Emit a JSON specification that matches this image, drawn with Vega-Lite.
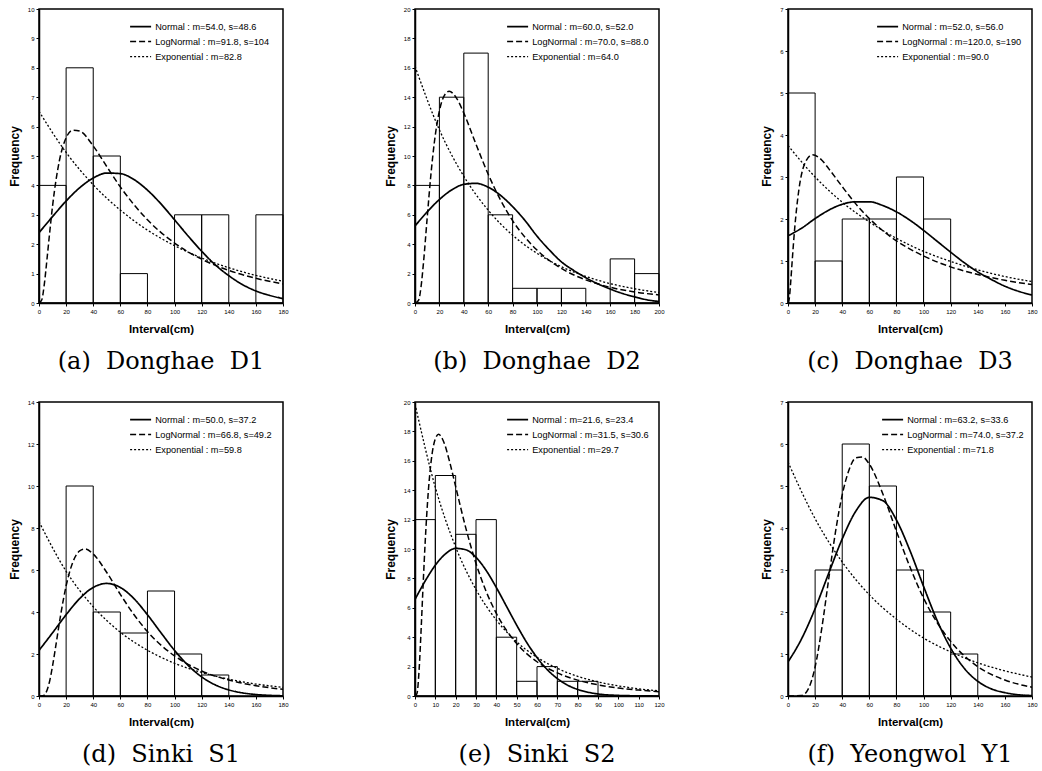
{
  "$schema": "https://vega.github.io/schema/vega-lite/v6.json",
  "background": "white",
  "padding": {"left": 7, "top": 5, "right": 0, "bottom": 0},
  "datasets": {
    "bars": [
      {"panel": "a", "x0": 0, "x1": 20, "count": 4}, {"panel": "a", "x0": 20, "x1": 40, "count": 8}, {"panel": "a", "x0": 40, "x1": 60, "count": 5}, {"panel": "a", "x0": 60, "x1": 80, "count": 1}, {"panel": "a", "x0": 100, "x1": 120, "count": 3}, {"panel": "a", "x0": 120, "x1": 140, "count": 3}, {"panel": "a", "x0": 160, "x1": 180, "count": 3},
      {"panel": "b", "x0": 0, "x1": 20, "count": 8}, {"panel": "b", "x0": 20, "x1": 40, "count": 14}, {"panel": "b", "x0": 40, "x1": 60, "count": 17}, {"panel": "b", "x0": 60, "x1": 80, "count": 6}, {"panel": "b", "x0": 80, "x1": 100, "count": 1}, {"panel": "b", "x0": 100, "x1": 120, "count": 1}, {"panel": "b", "x0": 120, "x1": 140, "count": 1}, {"panel": "b", "x0": 160, "x1": 180, "count": 3}, {"panel": "b", "x0": 180, "x1": 200, "count": 2},
      {"panel": "c", "x0": 0, "x1": 20, "count": 5}, {"panel": "c", "x0": 20, "x1": 40, "count": 1}, {"panel": "c", "x0": 40, "x1": 60, "count": 2}, {"panel": "c", "x0": 60, "x1": 80, "count": 2}, {"panel": "c", "x0": 80, "x1": 100, "count": 3}, {"panel": "c", "x0": 100, "x1": 120, "count": 2},
      {"panel": "d", "x0": 20, "x1": 40, "count": 10}, {"panel": "d", "x0": 40, "x1": 60, "count": 4}, {"panel": "d", "x0": 60, "x1": 80, "count": 3}, {"panel": "d", "x0": 80, "x1": 100, "count": 5}, {"panel": "d", "x0": 100, "x1": 120, "count": 2}, {"panel": "d", "x0": 120, "x1": 140, "count": 1},
      {"panel": "e", "x0": 0, "x1": 10, "count": 12}, {"panel": "e", "x0": 10, "x1": 20, "count": 15}, {"panel": "e", "x0": 20, "x1": 30, "count": 11}, {"panel": "e", "x0": 30, "x1": 40, "count": 12}, {"panel": "e", "x0": 40, "x1": 50, "count": 4}, {"panel": "e", "x0": 50, "x1": 60, "count": 1}, {"panel": "e", "x0": 60, "x1": 70, "count": 2}, {"panel": "e", "x0": 70, "x1": 80, "count": 1}, {"panel": "e", "x0": 80, "x1": 90, "count": 1},
      {"panel": "f", "x0": 20, "x1": 40, "count": 3}, {"panel": "f", "x0": 40, "x1": 60, "count": 6}, {"panel": "f", "x0": 60, "x1": 80, "count": 5}, {"panel": "f", "x0": 80, "x1": 100, "count": 3}, {"panel": "f", "x0": 100, "x1": 120, "count": 2}, {"panel": "f", "x0": 120, "x1": 140, "count": 1}
    ],
    "curves": [
      {"panel": "a", "dist": "Normal", "x": 0, "y": 2.39}, {"panel": "a", "dist": "Normal", "x": 10, "y": 2.94}, {"panel": "a", "dist": "Normal", "x": 20, "y": 3.47}, {"panel": "a", "dist": "Normal", "x": 30, "y": 3.92}, {"panel": "a", "dist": "Normal", "x": 40, "y": 4.25}, {"panel": "a", "dist": "Normal", "x": 50, "y": 4.42}, {"panel": "a", "dist": "Normal", "x": 60, "y": 4.4}, {"panel": "a", "dist": "Normal", "x": 70, "y": 4.2}, {"panel": "a", "dist": "Normal", "x": 80, "y": 3.84}, {"panel": "a", "dist": "Normal", "x": 90, "y": 3.37}, {"panel": "a", "dist": "Normal", "x": 100, "y": 2.83}, {"panel": "a", "dist": "Normal", "x": 110, "y": 2.28}, {"panel": "a", "dist": "Normal", "x": 120, "y": 1.76}, {"panel": "a", "dist": "Normal", "x": 130, "y": 1.3}, {"panel": "a", "dist": "Normal", "x": 140, "y": 0.93}, {"panel": "a", "dist": "Normal", "x": 150, "y": 0.63}, {"panel": "a", "dist": "Normal", "x": 160, "y": 0.41}, {"panel": "a", "dist": "Normal", "x": 170, "y": 0.26}, {"panel": "a", "dist": "Normal", "x": 180, "y": 0.15},
      {"panel": "a", "dist": "LogNormal", "x": 0, "y": 0}, {"panel": "a", "dist": "LogNormal", "x": 2, "y": 0.1}, {"panel": "a", "dist": "LogNormal", "x": 4, "y": 0.67}, {"panel": "a", "dist": "LogNormal", "x": 6, "y": 1.54}, {"panel": "a", "dist": "LogNormal", "x": 8, "y": 2.45}, {"panel": "a", "dist": "LogNormal", "x": 10, "y": 3.3}, {"panel": "a", "dist": "LogNormal", "x": 15, "y": 4.83}, {"panel": "a", "dist": "LogNormal", "x": 20, "y": 5.62}, {"panel": "a", "dist": "LogNormal", "x": 25, "y": 5.88}, {"panel": "a", "dist": "LogNormal", "x": 30, "y": 5.85}, {"panel": "a", "dist": "LogNormal", "x": 40, "y": 5.34}, {"panel": "a", "dist": "LogNormal", "x": 50, "y": 4.64}, {"panel": "a", "dist": "LogNormal", "x": 60, "y": 3.95}, {"panel": "a", "dist": "LogNormal", "x": 70, "y": 3.35}, {"panel": "a", "dist": "LogNormal", "x": 80, "y": 2.83}, {"panel": "a", "dist": "LogNormal", "x": 100, "y": 2.04}, {"panel": "a", "dist": "LogNormal", "x": 120, "y": 1.49}, {"panel": "a", "dist": "LogNormal", "x": 140, "y": 1.11}, {"panel": "a", "dist": "LogNormal", "x": 160, "y": 0.84}, {"panel": "a", "dist": "LogNormal", "x": 180, "y": 0.65},
      {"panel": "a", "dist": "Exponential", "x": 0, "y": 6.52}, {"panel": "a", "dist": "Exponential", "x": 20, "y": 5.12}, {"panel": "a", "dist": "Exponential", "x": 40, "y": 4.02}, {"panel": "a", "dist": "Exponential", "x": 60, "y": 3.16}, {"panel": "a", "dist": "Exponential", "x": 80, "y": 2.48}, {"panel": "a", "dist": "Exponential", "x": 100, "y": 1.95}, {"panel": "a", "dist": "Exponential", "x": 120, "y": 1.53}, {"panel": "a", "dist": "Exponential", "x": 140, "y": 1.2}, {"panel": "a", "dist": "Exponential", "x": 160, "y": 0.94}, {"panel": "a", "dist": "Exponential", "x": 180, "y": 0.74},

      {"panel": "b", "dist": "Normal", "x": 0, "y": 5.24}, {"panel": "b", "dist": "Normal", "x": 10, "y": 6.2}, {"panel": "b", "dist": "Normal", "x": 20, "y": 7.04}, {"panel": "b", "dist": "Normal", "x": 30, "y": 7.69}, {"panel": "b", "dist": "Normal", "x": 40, "y": 8.07}, {"panel": "b", "dist": "Normal", "x": 50, "y": 8.14}, {"panel": "b", "dist": "Normal", "x": 60, "y": 7.88}, {"panel": "b", "dist": "Normal", "x": 70, "y": 7.33}, {"panel": "b", "dist": "Normal", "x": 80, "y": 6.56}, {"panel": "b", "dist": "Normal", "x": 90, "y": 5.63}, {"panel": "b", "dist": "Normal", "x": 100, "y": 4.55}, {"panel": "b", "dist": "Normal", "x": 110, "y": 3.62}, {"panel": "b", "dist": "Normal", "x": 120, "y": 2.8}, {"panel": "b", "dist": "Normal", "x": 130, "y": 2.22}, {"panel": "b", "dist": "Normal", "x": 140, "y": 1.72}, {"panel": "b", "dist": "Normal", "x": 150, "y": 1.3}, {"panel": "b", "dist": "Normal", "x": 160, "y": 0.95}, {"panel": "b", "dist": "Normal", "x": 170, "y": 0.65}, {"panel": "b", "dist": "Normal", "x": 180, "y": 0.42}, {"panel": "b", "dist": "Normal", "x": 190, "y": 0.22}, {"panel": "b", "dist": "Normal", "x": 200, "y": 0.1},
      {"panel": "b", "dist": "LogNormal", "x": 0, "y": 0}, {"panel": "b", "dist": "LogNormal", "x": 3, "y": 0.2}, {"panel": "b", "dist": "LogNormal", "x": 5, "y": 1.14}, {"panel": "b", "dist": "LogNormal", "x": 7, "y": 2.78}, {"panel": "b", "dist": "LogNormal", "x": 10, "y": 5.81}, {"panel": "b", "dist": "LogNormal", "x": 13, "y": 8.7}, {"panel": "b", "dist": "LogNormal", "x": 16, "y": 11.02}, {"panel": "b", "dist": "LogNormal", "x": 20, "y": 13.07}, {"panel": "b", "dist": "LogNormal", "x": 24, "y": 14.11}, {"panel": "b", "dist": "LogNormal", "x": 28, "y": 14.4}, {"panel": "b", "dist": "LogNormal", "x": 34, "y": 13.94}, {"panel": "b", "dist": "LogNormal", "x": 40, "y": 12.92}, {"panel": "b", "dist": "LogNormal", "x": 50, "y": 10.8}, {"panel": "b", "dist": "LogNormal", "x": 60, "y": 8.76}, {"panel": "b", "dist": "LogNormal", "x": 70, "y": 7.02}, {"panel": "b", "dist": "LogNormal", "x": 80, "y": 5.6}, {"panel": "b", "dist": "LogNormal", "x": 90, "y": 4.49}, {"panel": "b", "dist": "LogNormal", "x": 100, "y": 3.6}, {"panel": "b", "dist": "LogNormal", "x": 120, "y": 2.35}, {"panel": "b", "dist": "LogNormal", "x": 140, "y": 1.57}, {"panel": "b", "dist": "LogNormal", "x": 160, "y": 1.07}, {"panel": "b", "dist": "LogNormal", "x": 180, "y": 0.75}, {"panel": "b", "dist": "LogNormal", "x": 200, "y": 0.55},
      {"panel": "b", "dist": "Exponential", "x": 0, "y": 16.1}, {"panel": "b", "dist": "Exponential", "x": 20, "y": 11.78}, {"panel": "b", "dist": "Exponential", "x": 40, "y": 8.62}, {"panel": "b", "dist": "Exponential", "x": 60, "y": 6.31}, {"panel": "b", "dist": "Exponential", "x": 80, "y": 4.61}, {"panel": "b", "dist": "Exponential", "x": 100, "y": 3.38}, {"panel": "b", "dist": "Exponential", "x": 120, "y": 2.47}, {"panel": "b", "dist": "Exponential", "x": 140, "y": 1.81}, {"panel": "b", "dist": "Exponential", "x": 160, "y": 1.32}, {"panel": "b", "dist": "Exponential", "x": 180, "y": 0.97}, {"panel": "b", "dist": "Exponential", "x": 200, "y": 0.71},

      {"panel": "c", "dist": "Normal", "x": 0, "y": 1.6}, {"panel": "c", "dist": "Normal", "x": 10, "y": 1.78}, {"panel": "c", "dist": "Normal", "x": 20, "y": 2.01}, {"panel": "c", "dist": "Normal", "x": 30, "y": 2.21}, {"panel": "c", "dist": "Normal", "x": 40, "y": 2.35}, {"panel": "c", "dist": "Normal", "x": 50, "y": 2.41}, {"panel": "c", "dist": "Normal", "x": 60, "y": 2.41}, {"panel": "c", "dist": "Normal", "x": 70, "y": 2.32}, {"panel": "c", "dist": "Normal", "x": 80, "y": 2.17}, {"panel": "c", "dist": "Normal", "x": 90, "y": 1.97}, {"panel": "c", "dist": "Normal", "x": 100, "y": 1.73}, {"panel": "c", "dist": "Normal", "x": 110, "y": 1.47}, {"panel": "c", "dist": "Normal", "x": 120, "y": 1.21}, {"panel": "c", "dist": "Normal", "x": 130, "y": 0.96}, {"panel": "c", "dist": "Normal", "x": 140, "y": 0.74}, {"panel": "c", "dist": "Normal", "x": 150, "y": 0.56}, {"panel": "c", "dist": "Normal", "x": 160, "y": 0.4}, {"panel": "c", "dist": "Normal", "x": 170, "y": 0.28}, {"panel": "c", "dist": "Normal", "x": 180, "y": 0.19},
      {"panel": "c", "dist": "LogNormal", "x": 0, "y": 0}, {"panel": "c", "dist": "LogNormal", "x": 1, "y": 0.12}, {"panel": "c", "dist": "LogNormal", "x": 2, "y": 0.5}, {"panel": "c", "dist": "LogNormal", "x": 3, "y": 0.96}, {"panel": "c", "dist": "LogNormal", "x": 5, "y": 1.8}, {"panel": "c", "dist": "LogNormal", "x": 8, "y": 2.69}, {"panel": "c", "dist": "LogNormal", "x": 12, "y": 3.29}, {"panel": "c", "dist": "LogNormal", "x": 18, "y": 3.53}, {"panel": "c", "dist": "LogNormal", "x": 25, "y": 3.4}, {"panel": "c", "dist": "LogNormal", "x": 30, "y": 3.2}, {"panel": "c", "dist": "LogNormal", "x": 40, "y": 2.77}, {"panel": "c", "dist": "LogNormal", "x": 50, "y": 2.36}, {"panel": "c", "dist": "LogNormal", "x": 60, "y": 2.01}, {"panel": "c", "dist": "LogNormal", "x": 70, "y": 1.72}, {"panel": "c", "dist": "LogNormal", "x": 80, "y": 1.48}, {"panel": "c", "dist": "LogNormal", "x": 100, "y": 1.12}, {"panel": "c", "dist": "LogNormal", "x": 120, "y": 0.86}, {"panel": "c", "dist": "LogNormal", "x": 140, "y": 0.68}, {"panel": "c", "dist": "LogNormal", "x": 160, "y": 0.54}, {"panel": "c", "dist": "LogNormal", "x": 180, "y": 0.44},
      {"panel": "c", "dist": "Exponential", "x": 0, "y": 3.75}, {"panel": "c", "dist": "Exponential", "x": 20, "y": 3.0}, {"panel": "c", "dist": "Exponential", "x": 40, "y": 2.4}, {"panel": "c", "dist": "Exponential", "x": 60, "y": 1.93}, {"panel": "c", "dist": "Exponential", "x": 80, "y": 1.54}, {"panel": "c", "dist": "Exponential", "x": 100, "y": 1.23}, {"panel": "c", "dist": "Exponential", "x": 120, "y": 0.99}, {"panel": "c", "dist": "Exponential", "x": 140, "y": 0.79}, {"panel": "c", "dist": "Exponential", "x": 160, "y": 0.63}, {"panel": "c", "dist": "Exponential", "x": 180, "y": 0.51},

      {"panel": "d", "dist": "Normal", "x": 0, "y": 2.17}, {"panel": "d", "dist": "Normal", "x": 10, "y": 3.01}, {"panel": "d", "dist": "Normal", "x": 20, "y": 3.87}, {"panel": "d", "dist": "Normal", "x": 30, "y": 4.64}, {"panel": "d", "dist": "Normal", "x": 40, "y": 5.17}, {"panel": "d", "dist": "Normal", "x": 50, "y": 5.36}, {"panel": "d", "dist": "Normal", "x": 60, "y": 5.17}, {"panel": "d", "dist": "Normal", "x": 70, "y": 4.64}, {"panel": "d", "dist": "Normal", "x": 80, "y": 3.87}, {"panel": "d", "dist": "Normal", "x": 90, "y": 3.01}, {"panel": "d", "dist": "Normal", "x": 100, "y": 2.17}, {"panel": "d", "dist": "Normal", "x": 110, "y": 1.46}, {"panel": "d", "dist": "Normal", "x": 120, "y": 0.91}, {"panel": "d", "dist": "Normal", "x": 130, "y": 0.53}, {"panel": "d", "dist": "Normal", "x": 140, "y": 0.29}, {"panel": "d", "dist": "Normal", "x": 150, "y": 0.15}, {"panel": "d", "dist": "Normal", "x": 160, "y": 0.07}, {"panel": "d", "dist": "Normal", "x": 170, "y": 0.03}, {"panel": "d", "dist": "Normal", "x": 180, "y": 0.01},
      {"panel": "d", "dist": "LogNormal", "x": 0, "y": 0}, {"panel": "d", "dist": "LogNormal", "x": 3, "y": 0.01}, {"panel": "d", "dist": "LogNormal", "x": 5, "y": 0.14}, {"panel": "d", "dist": "LogNormal", "x": 8, "y": 0.75}, {"panel": "d", "dist": "LogNormal", "x": 10, "y": 1.43}, {"panel": "d", "dist": "LogNormal", "x": 13, "y": 2.64}, {"panel": "d", "dist": "LogNormal", "x": 16, "y": 3.87}, {"panel": "d", "dist": "LogNormal", "x": 20, "y": 5.24}, {"panel": "d", "dist": "LogNormal", "x": 25, "y": 6.38}, {"panel": "d", "dist": "LogNormal", "x": 30, "y": 6.91}, {"panel": "d", "dist": "LogNormal", "x": 34, "y": 7.0}, {"panel": "d", "dist": "LogNormal", "x": 40, "y": 6.76}, {"panel": "d", "dist": "LogNormal", "x": 50, "y": 5.88}, {"panel": "d", "dist": "LogNormal", "x": 60, "y": 4.84}, {"panel": "d", "dist": "LogNormal", "x": 70, "y": 3.88}, {"panel": "d", "dist": "LogNormal", "x": 80, "y": 3.07}, {"panel": "d", "dist": "LogNormal", "x": 90, "y": 2.42}, {"panel": "d", "dist": "LogNormal", "x": 100, "y": 1.91}, {"panel": "d", "dist": "LogNormal", "x": 120, "y": 1.19}, {"panel": "d", "dist": "LogNormal", "x": 140, "y": 0.76}, {"panel": "d", "dist": "LogNormal", "x": 160, "y": 0.49}, {"panel": "d", "dist": "LogNormal", "x": 180, "y": 0.32},
      {"panel": "d", "dist": "Exponential", "x": 0, "y": 8.3}, {"panel": "d", "dist": "Exponential", "x": 20, "y": 5.94}, {"panel": "d", "dist": "Exponential", "x": 40, "y": 4.25}, {"panel": "d", "dist": "Exponential", "x": 60, "y": 3.04}, {"panel": "d", "dist": "Exponential", "x": 80, "y": 2.18}, {"panel": "d", "dist": "Exponential", "x": 100, "y": 1.56}, {"panel": "d", "dist": "Exponential", "x": 120, "y": 1.12}, {"panel": "d", "dist": "Exponential", "x": 140, "y": 0.8}, {"panel": "d", "dist": "Exponential", "x": 160, "y": 0.57}, {"panel": "d", "dist": "Exponential", "x": 180, "y": 0.41},

      {"panel": "e", "dist": "Normal", "x": 0, "y": 6.57}, {"panel": "e", "dist": "Normal", "x": 5, "y": 7.82}, {"panel": "e", "dist": "Normal", "x": 10, "y": 8.9}, {"panel": "e", "dist": "Normal", "x": 15, "y": 9.67}, {"panel": "e", "dist": "Normal", "x": 20, "y": 10.04}, {"panel": "e", "dist": "Normal", "x": 25, "y": 9.95}, {"panel": "e", "dist": "Normal", "x": 30, "y": 9.43}, {"panel": "e", "dist": "Normal", "x": 35, "y": 8.54}, {"panel": "e", "dist": "Normal", "x": 40, "y": 7.38}, {"panel": "e", "dist": "Normal", "x": 45, "y": 6.1}, {"panel": "e", "dist": "Normal", "x": 50, "y": 4.82}, {"panel": "e", "dist": "Normal", "x": 55, "y": 3.63}, {"panel": "e", "dist": "Normal", "x": 60, "y": 2.62}, {"panel": "e", "dist": "Normal", "x": 65, "y": 1.8}, {"panel": "e", "dist": "Normal", "x": 70, "y": 1.19}, {"panel": "e", "dist": "Normal", "x": 75, "y": 0.74}, {"panel": "e", "dist": "Normal", "x": 80, "y": 0.45}, {"panel": "e", "dist": "Normal", "x": 90, "y": 0.14}, {"panel": "e", "dist": "Normal", "x": 100, "y": 0.04}, {"panel": "e", "dist": "Normal", "x": 110, "y": 0.01}, {"panel": "e", "dist": "Normal", "x": 120, "y": 0},
      {"panel": "e", "dist": "LogNormal", "x": 0, "y": 0}, {"panel": "e", "dist": "LogNormal", "x": 1, "y": 0.19}, {"panel": "e", "dist": "LogNormal", "x": 2, "y": 1.74}, {"panel": "e", "dist": "LogNormal", "x": 3, "y": 4.49}, {"panel": "e", "dist": "LogNormal", "x": 4, "y": 7.59}, {"panel": "e", "dist": "LogNormal", "x": 5, "y": 10.45}, {"panel": "e", "dist": "LogNormal", "x": 6.5, "y": 13.83}, {"panel": "e", "dist": "LogNormal", "x": 8, "y": 16.04}, {"panel": "e", "dist": "LogNormal", "x": 10, "y": 17.5}, {"panel": "e", "dist": "LogNormal", "x": 11.6, "y": 17.8}, {"panel": "e", "dist": "LogNormal", "x": 14, "y": 17.33}, {"panel": "e", "dist": "LogNormal", "x": 17, "y": 15.95}, {"panel": "e", "dist": "LogNormal", "x": 20, "y": 14.24}, {"panel": "e", "dist": "LogNormal", "x": 25, "y": 11.42}, {"panel": "e", "dist": "LogNormal", "x": 30, "y": 9.02}, {"panel": "e", "dist": "LogNormal", "x": 35, "y": 7.11}, {"panel": "e", "dist": "LogNormal", "x": 40, "y": 5.62}, {"panel": "e", "dist": "LogNormal", "x": 50, "y": 3.57}, {"panel": "e", "dist": "LogNormal", "x": 60, "y": 2.33}, {"panel": "e", "dist": "LogNormal", "x": 70, "y": 1.57}, {"panel": "e", "dist": "LogNormal", "x": 80, "y": 1.08}, {"panel": "e", "dist": "LogNormal", "x": 90, "y": 0.76}, {"panel": "e", "dist": "LogNormal", "x": 100, "y": 0.54}, {"panel": "e", "dist": "LogNormal", "x": 110, "y": 0.4}, {"panel": "e", "dist": "LogNormal", "x": 120, "y": 0.29},
      {"panel": "e", "dist": "Exponential", "x": 0, "y": 19.87}, {"panel": "e", "dist": "Exponential", "x": 10, "y": 14.19}, {"panel": "e", "dist": "Exponential", "x": 20, "y": 10.13}, {"panel": "e", "dist": "Exponential", "x": 30, "y": 7.24}, {"panel": "e", "dist": "Exponential", "x": 40, "y": 5.17}, {"panel": "e", "dist": "Exponential", "x": 50, "y": 3.69}, {"panel": "e", "dist": "Exponential", "x": 60, "y": 2.63}, {"panel": "e", "dist": "Exponential", "x": 70, "y": 1.88}, {"panel": "e", "dist": "Exponential", "x": 80, "y": 1.34}, {"panel": "e", "dist": "Exponential", "x": 90, "y": 0.96}, {"panel": "e", "dist": "Exponential", "x": 100, "y": 0.69}, {"panel": "e", "dist": "Exponential", "x": 110, "y": 0.49}, {"panel": "e", "dist": "Exponential", "x": 120, "y": 0.35},

      {"panel": "f", "dist": "Normal", "x": 0, "y": 0.81}, {"panel": "f", "dist": "Normal", "x": 10, "y": 1.36}, {"panel": "f", "dist": "Normal", "x": 20, "y": 2.08}, {"panel": "f", "dist": "Normal", "x": 30, "y": 2.92}, {"panel": "f", "dist": "Normal", "x": 40, "y": 3.74}, {"panel": "f", "dist": "Normal", "x": 50, "y": 4.4}, {"panel": "f", "dist": "Normal", "x": 60, "y": 4.73}, {"panel": "f", "dist": "Normal", "x": 70, "y": 4.65}, {"panel": "f", "dist": "Normal", "x": 80, "y": 4.19}, {"panel": "f", "dist": "Normal", "x": 90, "y": 3.46}, {"panel": "f", "dist": "Normal", "x": 100, "y": 2.61}, {"panel": "f", "dist": "Normal", "x": 110, "y": 1.8}, {"panel": "f", "dist": "Normal", "x": 120, "y": 1.14}, {"panel": "f", "dist": "Normal", "x": 130, "y": 0.66}, {"panel": "f", "dist": "Normal", "x": 140, "y": 0.35}, {"panel": "f", "dist": "Normal", "x": 150, "y": 0.17}, {"panel": "f", "dist": "Normal", "x": 160, "y": 0.08}, {"panel": "f", "dist": "Normal", "x": 170, "y": 0.03}, {"panel": "f", "dist": "Normal", "x": 180, "y": 0.01},
      {"panel": "f", "dist": "LogNormal", "x": 0, "y": 0}, {"panel": "f", "dist": "LogNormal", "x": 10, "y": 0.01}, {"panel": "f", "dist": "LogNormal", "x": 15, "y": 0.17}, {"panel": "f", "dist": "LogNormal", "x": 20, "y": 0.69}, {"panel": "f", "dist": "LogNormal", "x": 25, "y": 1.63}, {"panel": "f", "dist": "LogNormal", "x": 30, "y": 2.78}, {"panel": "f", "dist": "LogNormal", "x": 35, "y": 3.9}, {"panel": "f", "dist": "LogNormal", "x": 40, "y": 4.79}, {"panel": "f", "dist": "LogNormal", "x": 45, "y": 5.38}, {"panel": "f", "dist": "LogNormal", "x": 50, "y": 5.67}, {"panel": "f", "dist": "LogNormal", "x": 55, "y": 5.69}, {"panel": "f", "dist": "LogNormal", "x": 60, "y": 5.52}, {"panel": "f", "dist": "LogNormal", "x": 70, "y": 4.81}, {"panel": "f", "dist": "LogNormal", "x": 80, "y": 3.92}, {"panel": "f", "dist": "LogNormal", "x": 90, "y": 3.07}, {"panel": "f", "dist": "LogNormal", "x": 100, "y": 2.33}, {"panel": "f", "dist": "LogNormal", "x": 110, "y": 1.75}, {"panel": "f", "dist": "LogNormal", "x": 120, "y": 1.3}, {"panel": "f", "dist": "LogNormal", "x": 140, "y": 0.7}, {"panel": "f", "dist": "LogNormal", "x": 160, "y": 0.38}, {"panel": "f", "dist": "LogNormal", "x": 180, "y": 0.21},
      {"panel": "f", "dist": "Exponential", "x": 0, "y": 5.57}, {"panel": "f", "dist": "Exponential", "x": 20, "y": 4.22}, {"panel": "f", "dist": "Exponential", "x": 40, "y": 3.19}, {"panel": "f", "dist": "Exponential", "x": 60, "y": 2.41}, {"panel": "f", "dist": "Exponential", "x": 80, "y": 1.83}, {"panel": "f", "dist": "Exponential", "x": 100, "y": 1.38}, {"panel": "f", "dist": "Exponential", "x": 120, "y": 1.05}, {"panel": "f", "dist": "Exponential", "x": 140, "y": 0.79}, {"panel": "f", "dist": "Exponential", "x": 160, "y": 0.6}, {"panel": "f", "dist": "Exponential", "x": 180, "y": 0.45}
    ]
  },
  "spacing": 23,
  "resolve": {"scale": {"strokeDash": "independent", "strokeWidth": "independent"}, "legend": {"strokeDash": "independent", "strokeWidth": "independent"}},
  "vconcat": [
    {
      "spacing": 94,
      "resolve": {"scale": {"strokeDash": "independent", "strokeWidth": "independent"}, "legend": {"strokeDash": "independent", "strokeWidth": "independent"}},
      "hconcat": [
        {
          "width": 244, "height": 294,
          "title": {"text": "(a)\u00a0 Donghae\u00a0 D1"},
          "layer": [
            {"data": {"name": "bars"}, "transform": [{"filter": "datum.panel == 'a'"}],
             "mark": {"type": "rect", "fill": "transparent", "stroke": "black", "strokeWidth": 1},
             "encoding": {
               "x": {"field": "x0", "type": "quantitative", "title": "Interval(cm)", "scale": {"domain": [0, 180], "nice": false}, "axis": {"values": [0, 20, 40, 60, 80, 100, 120, 140, 160, 180], "labelOverlap": false, "labelFlush": false}},
               "x2": {"field": "x1"},
               "y": {"field": "count", "type": "quantitative", "title": "Frequency", "scale": {"domain": [0, 10], "nice": false}, "axis": {"values": [0, 1, 2, 3, 4, 5, 6, 7, 8, 9, 10], "labelOverlap": false, "labelFlush": false}},
               "y2": {"datum": 0}}},
            {"data": {"name": "curves"}, "transform": [{"filter": "datum.panel == 'a'"}],
             "mark": {"type": "line", "interpolate": "monotone", "color": "black", "clip": true},
             "encoding": {
               "x": {"field": "x", "type": "quantitative", "title": "Interval(cm)", "axis": {"values": [0, 20, 40, 60, 80, 100, 120, 140, 160, 180], "labelOverlap": false, "labelFlush": false}},
               "y": {"field": "y", "type": "quantitative", "title": "Frequency", "axis": {"values": [0, 1, 2, 3, 4, 5, 6, 7, 8, 9, 10], "labelOverlap": false, "labelFlush": false}},
               "strokeDash": {"field": "dist", "type": "nominal", "scale": {"domain": ["Normal", "LogNormal", "Exponential"], "range": [[1, 0], [6, 3], [2, 2]]}, "legend": {"title": null, "orient": "none", "legendX": 97, "legendY": 13, "labelFontSize": 9.2, "symbolType": "M-3,0H3", "labelExpr": "datum.label == 'Normal' ? 'Normal : m=54.0, s=48.6' : datum.label == 'LogNormal' ? 'LogNormal : m=91.8, s=104' : 'Exponential : m=82.8'"}},
               "strokeWidth": {"field": "dist", "type": "nominal", "scale": {"domain": ["Normal", "LogNormal", "Exponential"], "range": [1.7, 1.3, 1]}, "legend": {"title": null, "orient": "none", "legendX": 97, "legendY": 13, "labelFontSize": 9.2, "symbolType": "M-3,0H3", "labelExpr": "datum.label == 'Normal' ? 'Normal : m=54.0, s=48.6' : datum.label == 'LogNormal' ? 'LogNormal : m=91.8, s=104' : 'Exponential : m=82.8'"}}}}
          ]
        },
        {
          "width": 244, "height": 294,
          "title": {"text": "(b)\u00a0 Donghae\u00a0 D2"},
          "layer": [
            {"data": {"name": "bars"}, "transform": [{"filter": "datum.panel == 'b'"}],
             "mark": {"type": "rect", "fill": "transparent", "stroke": "black", "strokeWidth": 1},
             "encoding": {
               "x": {"field": "x0", "type": "quantitative", "title": "Interval(cm)", "scale": {"domain": [0, 200], "nice": false}, "axis": {"values": [0, 20, 40, 60, 80, 100, 120, 140, 160, 180, 200], "labelOverlap": false, "labelFlush": false}},
               "x2": {"field": "x1"},
               "y": {"field": "count", "type": "quantitative", "title": "Frequency", "scale": {"domain": [0, 20], "nice": false}, "axis": {"values": [0, 2, 4, 6, 8, 10, 12, 14, 16, 18, 20], "labelOverlap": false, "labelFlush": false}},
               "y2": {"datum": 0}}},
            {"data": {"name": "curves"}, "transform": [{"filter": "datum.panel == 'b'"}],
             "mark": {"type": "line", "interpolate": "monotone", "color": "black", "clip": true},
             "encoding": {
               "x": {"field": "x", "type": "quantitative", "title": "Interval(cm)", "axis": {"values": [0, 20, 40, 60, 80, 100, 120, 140, 160, 180, 200], "labelOverlap": false, "labelFlush": false}},
               "y": {"field": "y", "type": "quantitative", "title": "Frequency", "axis": {"values": [0, 2, 4, 6, 8, 10, 12, 14, 16, 18, 20], "labelOverlap": false, "labelFlush": false}},
               "strokeDash": {"field": "dist", "type": "nominal", "scale": {"domain": ["Normal", "LogNormal", "Exponential"], "range": [[1, 0], [6, 3], [2, 2]]}, "legend": {"title": null, "orient": "none", "legendX": 98, "legendY": 13, "labelFontSize": 9.2, "symbolType": "M-3,0H3", "labelExpr": "datum.label == 'Normal' ? 'Normal : m=60.0, s=52.0' : datum.label == 'LogNormal' ? 'LogNormal : m=70.0, s=88.0' : 'Exponential : m=64.0'"}},
               "strokeWidth": {"field": "dist", "type": "nominal", "scale": {"domain": ["Normal", "LogNormal", "Exponential"], "range": [1.7, 1.3, 1]}, "legend": {"title": null, "orient": "none", "legendX": 98, "legendY": 13, "labelFontSize": 9.2, "symbolType": "M-3,0H3", "labelExpr": "datum.label == 'Normal' ? 'Normal : m=60.0, s=52.0' : datum.label == 'LogNormal' ? 'LogNormal : m=70.0, s=88.0' : 'Exponential : m=64.0'"}}}}
          ]
        },
        {
          "width": 244, "height": 294,
          "title": {"text": "(c)\u00a0 Donghae\u00a0 D3"},
          "layer": [
            {"data": {"name": "bars"}, "transform": [{"filter": "datum.panel == 'c'"}],
             "mark": {"type": "rect", "fill": "transparent", "stroke": "black", "strokeWidth": 1},
             "encoding": {
               "x": {"field": "x0", "type": "quantitative", "title": "Interval(cm)", "scale": {"domain": [0, 180], "nice": false}, "axis": {"values": [0, 20, 40, 60, 80, 100, 120, 140, 160, 180], "labelOverlap": false, "labelFlush": false}},
               "x2": {"field": "x1"},
               "y": {"field": "count", "type": "quantitative", "title": "Frequency", "scale": {"domain": [0, 7], "nice": false}, "axis": {"values": [0, 1, 2, 3, 4, 5, 6, 7], "labelOverlap": false, "labelFlush": false}},
               "y2": {"datum": 0}}},
            {"data": {"name": "curves"}, "transform": [{"filter": "datum.panel == 'c'"}],
             "mark": {"type": "line", "interpolate": "monotone", "color": "black", "clip": true},
             "encoding": {
               "x": {"field": "x", "type": "quantitative", "title": "Interval(cm)", "axis": {"values": [0, 20, 40, 60, 80, 100, 120, 140, 160, 180], "labelOverlap": false, "labelFlush": false}},
               "y": {"field": "y", "type": "quantitative", "title": "Frequency", "axis": {"values": [0, 1, 2, 3, 4, 5, 6, 7], "labelOverlap": false, "labelFlush": false}},
               "strokeDash": {"field": "dist", "type": "nominal", "scale": {"domain": ["Normal", "LogNormal", "Exponential"], "range": [[1, 0], [6, 3], [2, 2]]}, "legend": {"title": null, "orient": "none", "legendX": 95, "legendY": 13, "labelFontSize": 9.2, "symbolType": "M-3,0H3", "labelExpr": "datum.label == 'Normal' ? 'Normal : m=52.0, s=56.0' : datum.label == 'LogNormal' ? 'LogNormal : m=120.0, s=190' : 'Exponential : m=90.0'"}},
               "strokeWidth": {"field": "dist", "type": "nominal", "scale": {"domain": ["Normal", "LogNormal", "Exponential"], "range": [1.7, 1.3, 1]}, "legend": {"title": null, "orient": "none", "legendX": 95, "legendY": 13, "labelFontSize": 9.2, "symbolType": "M-3,0H3", "labelExpr": "datum.label == 'Normal' ? 'Normal : m=52.0, s=56.0' : datum.label == 'LogNormal' ? 'LogNormal : m=120.0, s=190' : 'Exponential : m=90.0'"}}}}
          ]
        }
      ]
    },
    {
      "spacing": 94,
      "resolve": {"scale": {"strokeDash": "independent", "strokeWidth": "independent"}, "legend": {"strokeDash": "independent", "strokeWidth": "independent"}},
      "hconcat": [
        {
          "width": 244, "height": 294,
          "title": {"text": "(d)\u00a0 Sinki\u00a0 S1"},
          "layer": [
            {"data": {"name": "bars"}, "transform": [{"filter": "datum.panel == 'd'"}],
             "mark": {"type": "rect", "fill": "transparent", "stroke": "black", "strokeWidth": 1},
             "encoding": {
               "x": {"field": "x0", "type": "quantitative", "title": "Interval(cm)", "scale": {"domain": [0, 180], "nice": false}, "axis": {"values": [0, 20, 40, 60, 80, 100, 120, 140, 160, 180], "labelOverlap": false, "labelFlush": false}},
               "x2": {"field": "x1"},
               "y": {"field": "count", "type": "quantitative", "title": "Frequency", "scale": {"domain": [0, 14], "nice": false}, "axis": {"values": [0, 2, 4, 6, 8, 10, 12, 14], "labelOverlap": false, "labelFlush": false}},
               "y2": {"datum": 0}}},
            {"data": {"name": "curves"}, "transform": [{"filter": "datum.panel == 'd'"}],
             "mark": {"type": "line", "interpolate": "monotone", "color": "black", "clip": true},
             "encoding": {
               "x": {"field": "x", "type": "quantitative", "title": "Interval(cm)", "axis": {"values": [0, 20, 40, 60, 80, 100, 120, 140, 160, 180], "labelOverlap": false, "labelFlush": false}},
               "y": {"field": "y", "type": "quantitative", "title": "Frequency", "axis": {"values": [0, 2, 4, 6, 8, 10, 12, 14], "labelOverlap": false, "labelFlush": false}},
               "strokeDash": {"field": "dist", "type": "nominal", "scale": {"domain": ["Normal", "LogNormal", "Exponential"], "range": [[1, 0], [6, 3], [2, 2]]}, "legend": {"title": null, "orient": "none", "legendX": 97, "legendY": 13, "labelFontSize": 9.2, "symbolType": "M-3,0H3", "labelExpr": "datum.label == 'Normal' ? 'Normal : m=50.0, s=37.2' : datum.label == 'LogNormal' ? 'LogNormal : m=66.8, s=49.2' : 'Exponential : m=59.8'"}},
               "strokeWidth": {"field": "dist", "type": "nominal", "scale": {"domain": ["Normal", "LogNormal", "Exponential"], "range": [1.7, 1.3, 1]}, "legend": {"title": null, "orient": "none", "legendX": 97, "legendY": 13, "labelFontSize": 9.2, "symbolType": "M-3,0H3", "labelExpr": "datum.label == 'Normal' ? 'Normal : m=50.0, s=37.2' : datum.label == 'LogNormal' ? 'LogNormal : m=66.8, s=49.2' : 'Exponential : m=59.8'"}}}}
          ]
        },
        {
          "width": 244, "height": 294,
          "title": {"text": "(e)\u00a0 Sinki\u00a0 S2"},
          "layer": [
            {"data": {"name": "bars"}, "transform": [{"filter": "datum.panel == 'e'"}],
             "mark": {"type": "rect", "fill": "transparent", "stroke": "black", "strokeWidth": 1},
             "encoding": {
               "x": {"field": "x0", "type": "quantitative", "title": "Interval(cm)", "scale": {"domain": [0, 120], "nice": false}, "axis": {"values": [0, 10, 20, 30, 40, 50, 60, 70, 80, 90, 100, 110, 120], "labelOverlap": false, "labelFlush": false}},
               "x2": {"field": "x1"},
               "y": {"field": "count", "type": "quantitative", "title": "Frequency", "scale": {"domain": [0, 20], "nice": false}, "axis": {"values": [0, 2, 4, 6, 8, 10, 12, 14, 16, 18, 20], "labelOverlap": false, "labelFlush": false}},
               "y2": {"datum": 0}}},
            {"data": {"name": "curves"}, "transform": [{"filter": "datum.panel == 'e'"}],
             "mark": {"type": "line", "interpolate": "monotone", "color": "black", "clip": true},
             "encoding": {
               "x": {"field": "x", "type": "quantitative", "title": "Interval(cm)", "axis": {"values": [0, 10, 20, 30, 40, 50, 60, 70, 80, 90, 100, 110, 120], "labelOverlap": false, "labelFlush": false}},
               "y": {"field": "y", "type": "quantitative", "title": "Frequency", "axis": {"values": [0, 2, 4, 6, 8, 10, 12, 14, 16, 18, 20], "labelOverlap": false, "labelFlush": false}},
               "strokeDash": {"field": "dist", "type": "nominal", "scale": {"domain": ["Normal", "LogNormal", "Exponential"], "range": [[1, 0], [6, 3], [2, 2]]}, "legend": {"title": null, "orient": "none", "legendX": 98, "legendY": 13, "labelFontSize": 9.2, "symbolType": "M-3,0H3", "labelExpr": "datum.label == 'Normal' ? 'Normal : m=21.6, s=23.4' : datum.label == 'LogNormal' ? 'LogNormal : m=31.5, s=30.6' : 'Exponential : m=29.7'"}},
               "strokeWidth": {"field": "dist", "type": "nominal", "scale": {"domain": ["Normal", "LogNormal", "Exponential"], "range": [1.7, 1.3, 1]}, "legend": {"title": null, "orient": "none", "legendX": 98, "legendY": 13, "labelFontSize": 9.2, "symbolType": "M-3,0H3", "labelExpr": "datum.label == 'Normal' ? 'Normal : m=21.6, s=23.4' : datum.label == 'LogNormal' ? 'LogNormal : m=31.5, s=30.6' : 'Exponential : m=29.7'"}}}}
          ]
        },
        {
          "width": 244, "height": 294,
          "title": {"text": "(f)\u00a0 Yeongwol\u00a0 Y1"},
          "layer": [
            {"data": {"name": "bars"}, "transform": [{"filter": "datum.panel == 'f'"}],
             "mark": {"type": "rect", "fill": "transparent", "stroke": "black", "strokeWidth": 1},
             "encoding": {
               "x": {"field": "x0", "type": "quantitative", "title": "Interval(cm)", "scale": {"domain": [0, 180], "nice": false}, "axis": {"values": [0, 20, 40, 60, 80, 100, 120, 140, 160, 180], "labelOverlap": false, "labelFlush": false}},
               "x2": {"field": "x1"},
               "y": {"field": "count", "type": "quantitative", "title": "Frequency", "scale": {"domain": [0, 7], "nice": false}, "axis": {"values": [0, 1, 2, 3, 4, 5, 6, 7], "labelOverlap": false, "labelFlush": false}},
               "y2": {"datum": 0}}},
            {"data": {"name": "curves"}, "transform": [{"filter": "datum.panel == 'f'"}],
             "mark": {"type": "line", "interpolate": "monotone", "color": "black", "clip": true},
             "encoding": {
               "x": {"field": "x", "type": "quantitative", "title": "Interval(cm)", "axis": {"values": [0, 20, 40, 60, 80, 100, 120, 140, 160, 180], "labelOverlap": false, "labelFlush": false}},
               "y": {"field": "y", "type": "quantitative", "title": "Frequency", "axis": {"values": [0, 1, 2, 3, 4, 5, 6, 7], "labelOverlap": false, "labelFlush": false}},
               "strokeDash": {"field": "dist", "type": "nominal", "scale": {"domain": ["Normal", "LogNormal", "Exponential"], "range": [[1, 0], [6, 3], [2, 2]]}, "legend": {"title": null, "orient": "none", "legendX": 100, "legendY": 13, "labelFontSize": 9.2, "symbolType": "M-3,0H3", "labelExpr": "datum.label == 'Normal' ? 'Normal : m=63.2, s=33.6' : datum.label == 'LogNormal' ? 'LogNormal : m=74.0, s=37.2' : 'Exponential : m=71.8'"}},
               "strokeWidth": {"field": "dist", "type": "nominal", "scale": {"domain": ["Normal", "LogNormal", "Exponential"], "range": [1.7, 1.3, 1]}, "legend": {"title": null, "orient": "none", "legendX": 100, "legendY": 13, "labelFontSize": 9.2, "symbolType": "M-3,0H3", "labelExpr": "datum.label == 'Normal' ? 'Normal : m=63.2, s=33.6' : datum.label == 'LogNormal' ? 'LogNormal : m=74.0, s=37.2' : 'Exponential : m=71.8'"}}}}
          ]
        }
      ]
    }
  ],
  "config": {
    "view": {"stroke": "black", "strokeWidth": 1.5},
    "axis": {"grid": false, "domainColor": "black", "domainWidth": 1.5, "tickColor": "black", "tickSize": 3, "labelFont": "Liberation Sans", "labelFontSize": 6, "labelColor": "black", "labelPadding": 2, "labelOverlap": false, "labelFlush": false, "titleFont": "Liberation Sans", "titleFontWeight": "bold", "titleColor": "black"},
    "axisQuantitative": {"labelOverlap": false, "labelFlush": false},
    "axisX": {"titleFontSize": 11.5, "titlePadding": 9},
    "axisY": {"titleFontSize": 12, "titlePadding": 6},
    "legend": {"padding": 0, "labelFont": "Liberation Sans", "labelFontSize": 9.2, "labelColor": "black", "symbolSize": 49, "labelOffset": 10, "rowPadding": 5, "symbolStrokeColor": "black"},
    "title": {"orient": "bottom", "anchor": "middle", "font": "DejaVu Serif", "fontSize": 24, "fontWeight": "normal", "color": "black", "offset": 15}
  }
}
